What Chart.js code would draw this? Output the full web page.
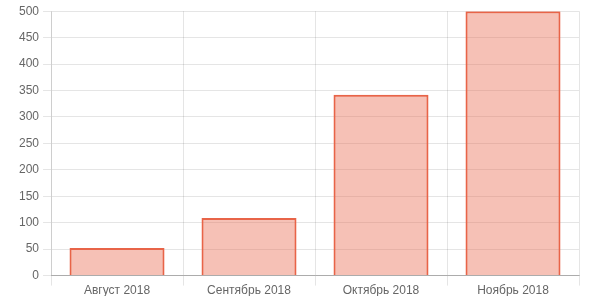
<!DOCTYPE html>
<html><head><meta charset="utf-8">
<script src="https://cdn.jsdelivr.net/npm/chart.js@4"></script>
<style>html,body{margin:0;padding:0;background:#fff}#wrap{width:600px;height:300px;position:relative}</style>
</head><body><div id="wrap"><canvas id="c"></canvas></div>
<script>
const categories = ["Август 2018", "Сентябрь 2018", "Октябрь 2018", "Ноябрь 2018"];
const values = [52, 109, 342, 500];
const yTicks = [0, 50, 100, 150, 200, 250, 300, 350, 400, 450, 500];

new Chart(document.getElementById('c'), {
  type: 'bar',
  data: {
    labels: categories,
    datasets: [{
      data: values,
      backgroundColor: 'rgba(232,100,72,0.4)',
      borderColor: 'rgb(232,100,72)',
      borderWidth: 2,
      barPercentage: 0.9,
      categoryPercentage: 0.8
    }]
  },
  options: {
    responsive: true,
    maintainAspectRatio: false,
    animation: false,
    layout: { padding: { top: -2, right: 21, left: 15, bottom: 4 } },
    plugins: { legend: { display: false }, tooltip: { enabled: false } },
    scales: {
      x: {
        grid: { color: 'rgba(0,0,0,0.1)', offset: true, tickLength: 10 },
        border: { color: 'rgba(0,0,0,0.25)' },
        ticks: { color: '#666', font: { family: 'Liberation Sans, Arial', size: 12 }, padding: -2 }
      },
      y: {
        min: 0, max: 500,
        afterBuildTicks: (ax) => { ax.ticks = yTicks.map(v => ({ value: v })); },
        grid: { color: 'rgba(0,0,0,0.1)', tickLength: 8 },
        border: { color: 'rgba(0,0,0,0.1)' },
        ticks: { color: '#666', font: { family: 'Liberation Sans, Arial', size: 12 }, padding: 4 }
      }
    }
  }
});
</script></body></html>
